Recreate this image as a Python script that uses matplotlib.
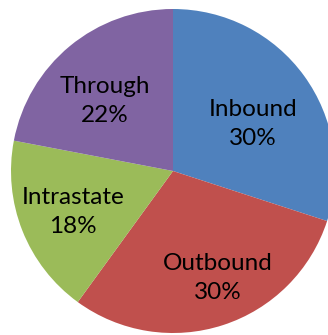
import matplotlib.pyplot as plt

# Share of trips by type
labels = ["Inbound", "Outbound", "Intrastate", "Through"]
shares = [30, 30, 18, 22]
colors = ["#4F81BD", "#C0504D", "#9BBB59", "#8064A2"]

# label centres, in pixel units of the canvas
label_xy = [(253, 211), (218, 57), (73, 123), (105, 234)]

fig = plt.figure(figsize=(3.28, 3.35), dpi=100)
ax = fig.add_axes([0, 0, 1, 1])

wedges, _ = ax.pie(shares, colors=colors, startangle=90, counterclock=False,
                   center=(173, 164), radius=162, frame=True,
                   wedgeprops=dict(linewidth=0))

for name, val, (x, y) in zip(labels, shares, label_xy):
    ax.text(x, y, f"{name}\n{val}%", ha="center", va="center",
            fontsize=17.5, family="Lato", linespacing=1.5, color="black")

ax.set_xlim(0, 328)
ax.set_ylim(0, 335)
ax.set_aspect("equal")
ax.axis("off")

fig.savefig("out.png", dpi=100)
